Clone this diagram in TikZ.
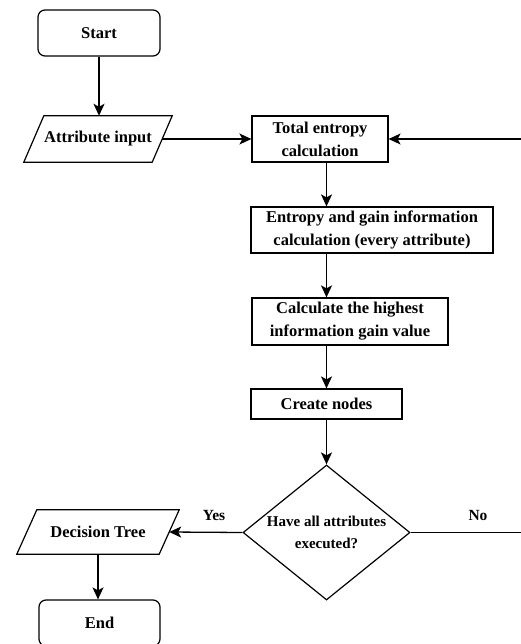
\documentclass[tikz,border=0pt]{standalone}
\usepackage{fontspec}
\setmainfont{Liberation Serif}
\usetikzlibrary{shapes.geometric,arrows.meta,calc}
\begin{document}
\begin{tikzpicture}[x=1pt,y=-1pt,
  font=\bfseries\fontsize{16.5}{23}\selectfont,
  base/.style={draw, line width=1.2pt, align=center, inner sep=0pt},
  term/.style={base, rounded corners=7pt},
  proc/.style={base},
  io/.style={align=center, inner sep=0pt},
  dec/.style={base, diamond, shape aspect=1.237, font=\bfseries\fontsize{15}{22}\selectfont},
  arr/.style={line width=1.3pt, -{Stealth[length=12pt,width=11pt,inset=3pt]}},
  lbl/.style={inner sep=0pt, font=\bfseries\fontsize{15.5}{20}\selectfont},
  pgram/.style={line width=1.2pt, line join=miter}
]
\useasboundingbox (0,0) rectangle (521,644);
\node[term, minimum width=122pt, minimum height=46pt] (start) at (99,33) {Start};
\node[io, minimum width=128pt, minimum height=46pt] (attr) at (98,139) {Attribute input};
\node[proc, minimum width=136pt, minimum height=46pt] (total) at (320,139) {Total entropy\\calculation};
\node[proc, minimum width=242pt, minimum height=46pt] (egain) at (372,230) {Entropy and gain information\\calculation (every attribute)};
\node[proc, minimum width=196pt, minimum height=47pt] (calc) at (350,321.5) {Calculate the highest\\information gain value};
\node[proc, minimum width=151pt, minimum height=30pt] (create) at (326.5,404) {Create nodes};
\node[dec, minimum width=167pt, minimum height=135pt] (dec) at (326.5,532.5) {Have all attributes\\executed?};
\node[io, minimum width=142pt, minimum height=44pt] (dtree) at (98,532) {Decision Tree};
\node[term, minimum width=121pt, minimum height=46pt] (end) at (99.5,623) {End};
\coordinate (noend) at (521,532.5);
\coordinate (loopin) at (521,139);
\node[lbl] (yes) at (214,515) {Yes};
\node[lbl] (no) at (478,515) {No};

\draw[pgram] ($(attr.south west)+(-10,0)$) -- ($(attr.north west)+(10,0)$) -- ($(attr.north east)+(10,0)$) -- ($(attr.south east)+(-10,0)$) -- cycle;
\draw[pgram] ($(dtree.south west)+(-10,0)$) -- ($(dtree.north west)+(10,0)$) -- ($(dtree.north east)+(10,0)$) -- ($(dtree.south east)+(-10,0)$) -- cycle;

\draw[arr] (start) -- (attr.north -| start);
\draw[arr] (attr.east) -- (total.west);
\draw[arr] (total.south -| create.center) -- (egain.north -| create.center);
\draw[arr] (egain.south -| create.center) -- (calc.north -| create.center);
\draw[arr] (calc.south -| create.center) -- (create.north);
\draw[arr] (create) -- (dec);
\draw[arr] (dec.west) -- (dtree.east);
\draw[line width=1.2pt] (dec.east) -- (noend);
\draw[arr] (loopin) -- (total.east);
\draw[arr] (dtree.south) -- (end.north -| dtree.south);
\end{tikzpicture}
\end{document}
